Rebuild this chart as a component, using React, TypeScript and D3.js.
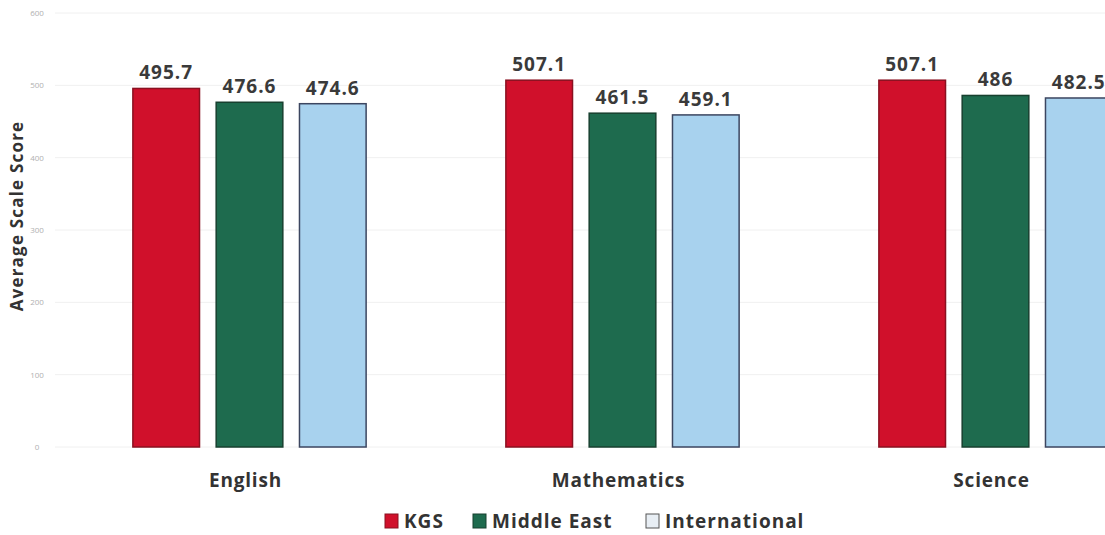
import React from "react";
import * as d3 from "d3";

const categories = ["English", "Mathematics", "Science"];
const seriesNames = ["KGS", "Middle East", "International"];
const kgs = [495.7, 507.1, 507.1];
const middleEast = [476.6, 461.5, 486];
const international = [474.6, 459.1, 482.5];
const valueLabels = [
  ["495.7", "476.6", "474.6"],
  ["507.1", "461.5", "459.1"],
  ["507.1", "486", "482.5"],
];
const yTicks = [0, 100, 200, 300, 400, 500, 600];
const colors = ["#d0102b", "#1e6b4e", "#a8d2ee"];
const strokes = ["#8a1020", "#17402f", "#3c4660"];

const W = 1105;
const H = 535;

export default function App() {
  const series = [kgs, middleEast, international];
  const y = d3.scaleLinear().domain([0, 600]).range([447, 13]);
  const x0 = d3
    .scaleBand<string>()
    .domain(categories)
    .range([63, 1182])
    .paddingInner(0.33)
    .paddingOuter(0.165);
  const x1 = d3
    .scaleBand<string>()
    .domain(seriesNames)
    .range([0, x0.bandwidth()])
    .paddingInner(0.2)
    .paddingOuter(0.1);
  const font = "'Open Sans', sans-serif";
  const legendX = [385, 473, 646];
  return (
    <svg
      width={W}
      height={H}
      style={{ position: "absolute", left: 0, top: 0, background: "#fff" }}
      fontFamily={font}
    >
      {yTicks.map((t) => (
        <g key={t}>
          <line x1={55} x2={W} y1={y(t)} y2={y(t)} stroke="#f0f0f0" strokeWidth={1} />
          <text x={37} y={y(t) + 3} fontSize={8} fill="#b0b0b0" textAnchor="middle">
            {t}
          </text>
        </g>
      ))}
      <text
        transform={`translate(23,216) rotate(-90)`}
        textAnchor="middle"
        fontSize={17}
        fontWeight="bold"
        letterSpacing={1.2}
        fill="#333"
      >
        Average Scale Score
      </text>
      {categories.map((c, ci) => (
        <g key={c} transform={`translate(${x0(c)},0)`}>
          {seriesNames.map((s, si) => {
            const v = series[si][ci];
            const bx = x1(s)!;
            return (
              <g key={s}>
                <rect
                  x={bx}
                  y={y(v)}
                  width={x1.bandwidth()}
                  height={y(0) - y(v)}
                  fill={colors[si]}
                  stroke={strokes[si]}
                  strokeWidth={1.5}
                />
                <text
                  x={bx + x1.bandwidth() / 2}
                  y={y(v) - 9}
                  textAnchor="middle"
                  fontSize={19}
                  fontWeight="bold"
                  letterSpacing={1}
                  fill="#3a3a3a"
                >
                  {valueLabels[ci][si]}
                </text>
              </g>
            );
          })}
          <text
            x={x0.bandwidth() / 2 - 4}
            y={487}
            textAnchor="middle"
            fontSize={19}
            fontWeight="bold"
            letterSpacing={0.8}
            fill="#333"
          >
            {c}
          </text>
        </g>
      ))}
      {seriesNames.map((s, si) => (
        <g key={s} transform={`translate(${legendX[si]},514)`}>
          <rect x={0} y={0} width={13} height={14} fill={si === 2 ? "#e8eef4" : colors[si]} stroke={si === 2 ? "#555" : strokes[si]} strokeWidth={1} />
          <text x={19} y={14} fontSize={19} fontWeight="bold" letterSpacing={1} fill="#333">
            {s}
          </text>
        </g>
      ))}
    </svg>
  );
}
